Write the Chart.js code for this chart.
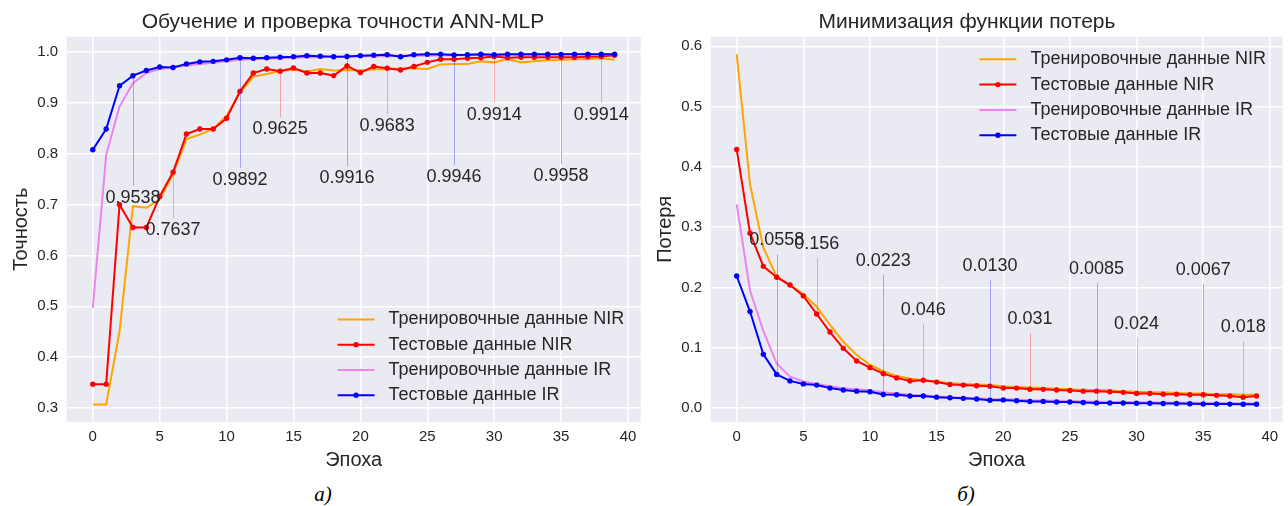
<!DOCTYPE html>
<html>
<head>
<meta charset="utf-8">
<script src="https://cdn.jsdelivr.net/npm/chart.js@4.4.1/dist/chart.umd.min.js"></script>
<style>
  body { margin: 0; background: #fff; }
  #wrap { position: relative; width: 1288px; height: 506px; overflow: hidden; }
  .panel { position: absolute; top: 0; }
  .cap { position: absolute; top: 482px; width: 60px; margin-left: -30px; text-align: center;
         font: italic 21px "Liberation Serif", "Times New Roman", serif; color: #000; }
</style>
</head>
<body>
<div id="wrap">
  <canvas id="accChart" class="panel" style="left:0" width="644" height="480"></canvas>
  <canvas id="lossChart" class="panel" style="left:644px" width="644" height="480"></canvas>
  <div class="cap" style="left:323px">а)</div>
  <div class="cap" style="left:966px">б)</div>
</div>
<script>
const epochs = [0, 1, 2, 3, 4, 5, 6, 7, 8, 9, 10, 11, 12, 13, 14, 15, 16, 17, 18, 19,
                20, 21, 22, 23, 24, 25, 26, 27, 28, 29, 30, 31, 32, 33, 34, 35, 36, 37, 38, 39];

// точность
const accTrainNIR = [0.307, 0.307, 0.451, 0.697, 0.694, 0.710, 0.760, 0.829, 0.838, 0.849,
                     0.875, 0.920, 0.952, 0.957, 0.963, 0.966, 0.962, 0.967, 0.964, 0.965,
                     0.964, 0.966, 0.967, 0.968, 0.968, 0.967, 0.976, 0.977, 0.977, 0.982,
                     0.980, 0.987, 0.980, 0.982, 0.984, 0.985, 0.986, 0.986, 0.988, 0.985];
const accTestNIR = [0.347, 0.347, 0.700, 0.655, 0.655, 0.716, 0.7637, 0.839, 0.849, 0.849,
                    0.870, 0.923, 0.959, 0.967, 0.9625, 0.969, 0.959, 0.959, 0.954, 0.973,
                    0.960, 0.972, 0.9683, 0.965, 0.972, 0.980, 0.986, 0.986, 0.988, 0.989,
                    0.9914, 0.989, 0.990, 0.990, 0.990, 0.990, 0.990, 0.991, 0.9914, 0.994];
const accTrainIR = [0.497, 0.798, 0.893, 0.939, 0.959, 0.967, 0.970, 0.974, 0.977, 0.979,
                    0.982, 0.985, 0.986, 0.987, 0.988, 0.989, 0.990, 0.990, 0.991, 0.991,
                    0.992, 0.992, 0.992, 0.993, 0.993, 0.993, 0.994, 0.994, 0.994, 0.994,
                    0.995, 0.995, 0.995, 0.995, 0.995, 0.996, 0.996, 0.996, 0.996, 0.996];
const accTestIR = [0.808, 0.849, 0.934, 0.9538, 0.964, 0.971, 0.970, 0.977, 0.981, 0.982,
                   0.985, 0.9892, 0.988, 0.989, 0.990, 0.991, 0.993, 0.992, 0.991, 0.9916,
                   0.993, 0.994, 0.995, 0.991, 0.995, 0.996, 0.996, 0.9946, 0.995, 0.996,
                   0.995, 0.996, 0.996, 0.996, 0.996, 0.9958, 0.996, 0.996, 0.996, 0.996];

// потери
const lossTrainNIR = [0.587, 0.371, 0.266, 0.218, 0.204, 0.189, 0.168, 0.138, 0.110, 0.088,
                      0.072, 0.061, 0.053, 0.049, 0.046, 0.044, 0.041, 0.040, 0.039, 0.038,
                      0.036, 0.035, 0.034, 0.033, 0.032, 0.031, 0.030, 0.030, 0.029, 0.028,
                      0.027, 0.026, 0.026, 0.025, 0.024, 0.024, 0.023, 0.023, 0.022, 0.022];
const lossTestNIR = [0.429, 0.290, 0.235, 0.217, 0.204, 0.186, 0.156, 0.126, 0.099, 0.078,
                     0.067, 0.057, 0.050, 0.045, 0.046, 0.043, 0.039, 0.038, 0.037, 0.036,
                     0.033, 0.033, 0.031, 0.031, 0.030, 0.029, 0.028, 0.028, 0.027, 0.026,
                     0.024, 0.024, 0.023, 0.023, 0.022, 0.022, 0.021, 0.020, 0.018, 0.020];
const lossTrainIR = [0.338, 0.195, 0.128, 0.074, 0.052, 0.044, 0.040, 0.036, 0.033, 0.031,
                     0.029, 0.026, 0.024, 0.022, 0.021, 0.019, 0.018, 0.017, 0.016, 0.015,
                     0.0145, 0.014, 0.013, 0.0125, 0.012, 0.0115, 0.011, 0.0105, 0.010, 0.0098,
                     0.0095, 0.0092, 0.009, 0.0088, 0.0086, 0.0084, 0.0082, 0.008, 0.0078, 0.0076];
const lossTestIR = [0.219, 0.160, 0.089, 0.0558, 0.045, 0.040, 0.038, 0.033, 0.030, 0.028,
                    0.027, 0.0223, 0.022, 0.020, 0.020, 0.018, 0.017, 0.016, 0.015, 0.0130,
                    0.0135, 0.012, 0.011, 0.011, 0.010, 0.010, 0.0092, 0.0085, 0.0085, 0.0082,
                    0.008, 0.0078, 0.0076, 0.0074, 0.0070, 0.0067, 0.0066, 0.0065, 0.0063, 0.0062];

// эпохи с подписями
const irMarks = [3, 11, 19, 27, 35];
const nirMarks = [6, 14, 22, 30, 38];

const seriesNames = ['Тренировочные данные NIR', 'Тестовые данные NIR',
                     'Тренировочные данные IR', 'Тестовые данные IR'];

const FONT = "'Liberation Sans', Arial, sans-serif";
const TXT = '#262626';
Chart.defaults.font.family = FONT;

function makeDatasets(trainNIR, testNIR, trainIR, testIR) {
  const base = { borderWidth: 2, tension: 0, pointBorderWidth: 0, pointHoverRadius: 0 };
  return [
    { ...base, label: seriesNames[0], data: trainNIR, borderColor: 'orange', pointRadius: 0, order: 3 },
    { ...base, label: seriesNames[1], data: testNIR, borderColor: 'red', pointBackgroundColor: 'red', pointRadius: 2.7, order: 2 },
    { ...base, label: seriesNames[2], data: trainIR, borderColor: 'violet', pointRadius: 0, order: 1 },
    { ...base, label: seriesNames[3], data: testIR, borderColor: 'blue', pointBackgroundColor: 'blue', pointRadius: 2.7, order: 0 }
  ];
}

const bgPlugin = {
  id: 'bg',
  beforeDraw(chart) {
    const { ctx, chartArea: a } = chart;
    ctx.save();
    ctx.fillStyle = '#EAEAF2';
    ctx.fillRect(a.left, a.top, a.width, a.height);
    ctx.restore();
  }
};

function titlePlugin(text, cx) {
  return {
    id: 'ttl',
    afterDraw(chart) {
      const ctx = chart.ctx;
      ctx.save();
      ctx.font = '21px ' + FONT;
      ctx.fillStyle = TXT;
      ctx.textAlign = 'center';
      ctx.textBaseline = 'middle';
      ctx.fillText(text, cx, 22);
      ctx.restore();
    }
  };
}

// подписи значений с выносными линиями
function marksPlugin(items) {
  return {
    id: 'marks',
    afterDatasetsDraw(chart) {
      const { ctx, scales } = chart;
      ctx.save();
      ctx.font = '18px ' + FONT;
      ctx.textAlign = 'center';
      ctx.textBaseline = 'middle';
      items.forEach(it => {
        const data = chart.data.datasets[it.ds].data;
        it.idx.forEach(i => {
          const x = scales.x.getPixelForValue(epochs[i]);
          const y = scales.y.getPixelForValue(data[i]);
          const ty = y + it.dy;
          const ly = it.dy > 0 ? ty - it.gap : ty + it.gap;
          ctx.strokeStyle = it.color;
          ctx.lineWidth = 1;
          ctx.beginPath();
          ctx.moveTo(Math.round(x) + 0.5, y);
          ctx.lineTo(Math.round(x) + 0.5, ly);
          ctx.stroke();
          ctx.fillStyle = TXT;
          ctx.fillText(data[i].toFixed(it.digits), x, ty);
        });
      });
      ctx.restore();
    }
  };
}

function legendPlugin(where) {
  return {
    id: 'lgd',
    afterDraw(chart) {
      const { ctx, chartArea: a } = chart;
      const sets = chart.data.datasets;
      ctx.save();
      ctx.font = '18px ' + FONT;
      const maxW = Math.max(...sets.map(d => ctx.measureText(d.label).width));
      const tx = a.right - 16.5 - maxW;
      const step = 25.3;
      const y0 = where === 'top' ? a.top + 22.6 : a.bottom - 26.7 - step * (sets.length - 1);
      sets.forEach((d, k) => {
        const y = y0 + k * step;
        ctx.strokeStyle = d.borderColor;
        ctx.lineWidth = 2;
        ctx.beginPath();
        ctx.moveTo(tx - 51, y);
        ctx.lineTo(tx - 14, y);
        ctx.stroke();
        if (d.pointRadius > 0) {
          ctx.fillStyle = d.borderColor;
          ctx.beginPath();
          ctx.arc(tx - 32.5, y, 2.7, 0, Math.PI * 2);
          ctx.fill();
        }
        ctx.fillStyle = TXT;
        ctx.textBaseline = 'middle';
        ctx.fillText(d.label, tx, y);
      });
      ctx.restore();
    }
  };
}

function makeOptions(o) {
  const tickFont = { family: FONT, size: 15 };
  const titleFont = { family: FONT, size: 20 };
  return {
    responsive: false,
    animation: false,
    devicePixelRatio: 1,
    layout: { padding: { top: 36.7, left: 0, right: o.padRight, bottom: 0 } },
    plugins: { legend: { display: false }, tooltip: { enabled: false } },
    scales: {
      x: {
        type: 'linear', min: -1.95, max: 40.95,
        ticks: { stepSize: 5, includeBounds: false, padding: 6, color: TXT, font: tickFont },
        grid: { color: '#ffffff', lineWidth: 1.5, drawTicks: false },
        border: { display: false },
        title: { display: true, text: 'Эпоха', color: TXT, font: titleFont, padding: { top: 0, bottom: 8 } },
        afterFit(s) { s.height = 58; }
      },
      y: {
        min: o.yMin, max: o.yMax,
        ticks: { stepSize: 0.1, includeBounds: false, padding: 8.5, color: TXT, font: tickFont,
                 callback: v => v.toFixed(1) },
        grid: { color: '#ffffff', lineWidth: 1.5, drawTicks: false },
        border: { display: false },
        title: { display: true, text: o.yTitle, color: TXT, font: titleFont, padding: { top: 9, bottom: 0 } },
        afterFit(s) { s.width = 66.7; }
      }
    }
  };
}

new Chart(document.getElementById('accChart'), {
  type: 'line',
  data: { labels: epochs, datasets: makeDatasets(accTrainNIR, accTestNIR, accTrainIR, accTestIR) },
  options: makeOptions({ yMin: 0.2725, yMax: 1.0305, yTitle: 'Точность', padRight: 3.3 }),
  plugins: [
    bgPlugin,
    titlePlugin('Обучение и проверка точности ANN-MLP', 343),
    marksPlugin([
      { ds: 3, idx: irMarks, dy: 122, gap: 12, digits: 4, color: 'rgba(0,0,255,0.3)' },
      { ds: 1, idx: nirMarks, dy: 58, gap: 12, digits: 4, color: 'rgba(255,0,0,0.3)' }
    ]),
    legendPlugin('bottom')
  ]
});

new Chart(document.getElementById('lossChart'), {
  type: 'line',
  data: { labels: epochs, datasets: makeDatasets(lossTrainNIR, lossTestNIR, lossTrainIR, lossTestIR) },
  options: makeOptions({ yMin: -0.0232, yMax: 0.616, yTitle: 'Потеря', padRight: 5.5 }),
  plugins: [
    bgPlugin,
    titlePlugin('Минимизация функции потерь', 323),
    marksPlugin([
      { ds: 3, idx: irMarks, dy: -134, gap: 14, digits: 4, color: 'rgba(0,0,255,0.3)' },
      { ds: 1, idx: nirMarks, dy: -70, gap: 14, digits: 3, color: 'rgba(255,0,0,0.3)' }
    ]),
    legendPlugin('top')
  ]
});
</script>
</body>
</html>
